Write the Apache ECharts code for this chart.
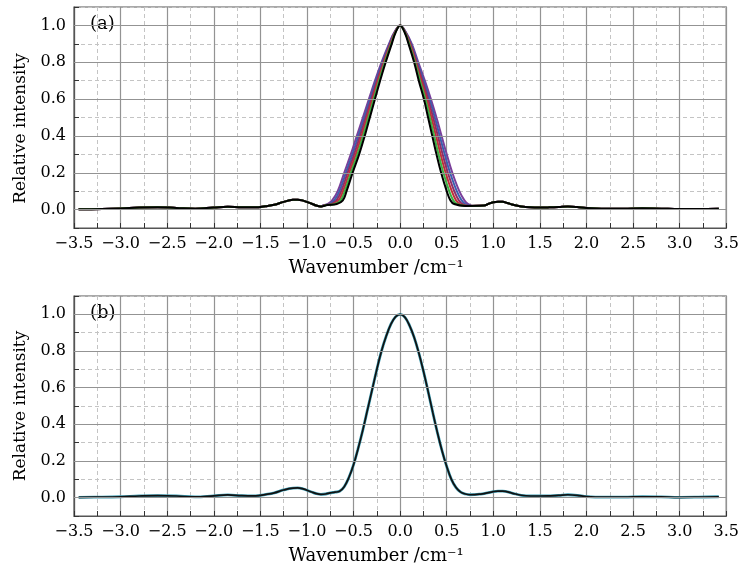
<!DOCTYPE html>
<html>
<head>
<meta charset="utf-8">
<script src="https://cdn.jsdelivr.net/npm/echarts@6/dist/echarts.min.js"></script>
<style>
  html, body { margin: 0; padding: 0; background: #fff; }
  #main { width: 742px; height: 570px; }
</style>
</head>
<body>
<div id="main"></div>
<script>
var chartDom = document.getElementById('main');
var myChart = echarts.init(chartDom);
var option;

// Solid horizontal grid lines (dashed ones come from the 0.1 split lines)
const gridY = [0, 0.2, 0.4, 0.6, 0.8, 1.0];

// ---- panel (a): shared wings ----
const tailLeftX = [-3.45, -3.2, -3.0, -2.8, -2.6, -2.4, -2.2, -2.0, -1.85, -1.7, -1.55, -1.45, -1.35, -1.25, -1.15, -1.1, -1.05, -0.95, -0.9, -0.85];
const tailLeftY = [0.002, 0.003, 0.006, 0.011, 0.013, 0.009, 0.005, 0.011, 0.015, 0.012, 0.012, 0.018, 0.026, 0.042, 0.053, 0.054, 0.05, 0.032, 0.022, 0.017];
const tailRightX = [0.9, 0.95, 1.0, 1.05, 1.1, 1.15, 1.2, 1.3, 1.4, 1.5, 1.6, 1.7, 1.8, 1.9, 2.0, 2.2, 2.4, 2.6, 2.8, 3.0, 3.2, 3.42];
const tailRightY = [0.022, 0.032, 0.04, 0.043, 0.042, 0.036, 0.028, 0.017, 0.012, 0.011, 0.012, 0.014, 0.017, 0.014, 0.008, 0.004, 0.004, 0.007, 0.005, 0.003, 0.003, 0.004];

// ---- panel (a): main peak, x positions read at fixed intensity levels ----
const levelsUp = [0.025, 0.03, 0.05, 0.1, 0.2, 0.3, 0.4, 0.5, 0.6, 0.7, 0.8, 0.9, 0.96, 1.0];
const levelsDown = [0.96, 0.9, 0.8, 0.7, 0.6, 0.5, 0.4, 0.3, 0.2, 0.1, 0.05, 0.03, 0.02];

const curveNames = ['c1', 'c2', 'c3', 'c4', 'c5', 'c6'];
const curveColors = ['#7a3f9a', '#3a5fae', '#8a2f6a', '#c0303a', '#3cb043', '#000000'];
const peakLeftX = [
  [-0.82, -0.78, -0.73, -0.67, -0.60, -0.53, -0.465, -0.40, -0.335, -0.27, -0.20, -0.12, -0.065, 0],
  [-0.812, -0.76, -0.707, -0.651, -0.582, -0.512, -0.448, -0.385, -0.322, -0.259, -0.191, -0.114, -0.062, 0],
  [-0.804, -0.74, -0.684, -0.632, -0.564, -0.494, -0.431, -0.37, -0.309, -0.248, -0.182, -0.108, -0.059, 0],
  [-0.796, -0.72, -0.661, -0.613, -0.546, -0.476, -0.414, -0.355, -0.296, -0.237, -0.173, -0.102, -0.056, 0],
  [-0.788, -0.70, -0.638, -0.594, -0.528, -0.458, -0.397, -0.34, -0.283, -0.226, -0.164, -0.096, -0.053, 0],
  [-0.78, -0.68, -0.615, -0.575, -0.51, -0.44, -0.38, -0.325, -0.27, -0.215, -0.155, -0.09, -0.05, 0]
];
const peakRightX = [
  [0.065, 0.125, 0.195, 0.265, 0.33, 0.39, 0.445, 0.50, 0.56, 0.635, 0.69, 0.73, 0.78],
  [0.062, 0.118, 0.186, 0.252, 0.315, 0.372, 0.425, 0.478, 0.536, 0.608, 0.66, 0.70, 0.764],
  [0.059, 0.111, 0.177, 0.239, 0.30, 0.354, 0.405, 0.456, 0.512, 0.581, 0.63, 0.67, 0.748],
  [0.056, 0.104, 0.168, 0.226, 0.285, 0.336, 0.385, 0.434, 0.488, 0.554, 0.60, 0.64, 0.732],
  [0.053, 0.097, 0.159, 0.213, 0.27, 0.318, 0.365, 0.412, 0.464, 0.527, 0.57, 0.61, 0.716],
  [0.05, 0.09, 0.15, 0.20, 0.255, 0.30, 0.345, 0.39, 0.44, 0.50, 0.54, 0.58, 0.70]
];

// ---- panel (b): single retrieved line shape ----
const bottomX = [-3.45, -3.2, -3.0, -2.8, -2.6, -2.4, -2.2, -2.0, -1.85, -1.7, -1.55, -1.45, -1.35, -1.25, -1.15, -1.1, -1.05, -0.95, -0.9, -0.85,
  -0.8, -0.75, -0.7, -0.65, -0.6, -0.55, -0.5, -0.45, -0.4, -0.35, -0.3, -0.25, -0.2, -0.15, -0.1, -0.05, 0,
  0.05, 0.1, 0.15, 0.2, 0.25, 0.3, 0.35, 0.4, 0.45, 0.5, 0.55, 0.6, 0.65, 0.7, 0.75, 0.8,
  0.85, 0.9, 1.0, 1.05, 1.1, 1.2, 1.3, 1.4, 1.5, 1.6, 1.7, 1.8, 1.9, 2.0, 2.2, 2.4, 2.6, 2.8, 3.0, 3.2, 3.42];
const bottomY = [0.002, 0.003, 0.005, 0.009, 0.011, 0.009, 0.004, 0.01, 0.015, 0.011, 0.01, 0.017, 0.026, 0.042, 0.052, 0.053, 0.049, 0.031, 0.022, 0.018,
  0.02, 0.026, 0.03, 0.035, 0.06, 0.11, 0.18, 0.27, 0.37, 0.48, 0.59, 0.70, 0.80, 0.88, 0.945, 0.986, 1.0,
  0.985, 0.94, 0.875, 0.79, 0.69, 0.58, 0.465, 0.355, 0.255, 0.17, 0.1, 0.055, 0.03, 0.02, 0.016, 0.017,
  0.019, 0.022, 0.033, 0.036, 0.036, 0.025, 0.013, 0.009, 0.009, 0.01, 0.012, 0.016, 0.013, 0.006, 0.003, 0.003, 0.005, 0.004, 0.002, 0.003, 0.005];

function pairs(xs, ys) {
  return xs.map(function (x, i) { return [x, ys[i]]; });
}

const serif = '"DejaVu Serif", serif';
const panelTops = [7, 296];

function makeX(idx) {
  return {
    type: 'value', gridIndex: idx, min: -3.5, max: 3.5, interval: 0.5,
    name: 'Wavenumber /cm\u207B\u00B9', nameLocation: 'middle', nameGap: 31,
    nameTextStyle: { fontFamily: serif, fontSize: 18, color: '#000', padding: [0, 48, 0, 0] },
    axisLine: { show: true, onZero: false, lineStyle: { color: '#555', width: 1.2 } },
    axisTick: { show: true, inside: true, length: 5, lineStyle: { color: '#333' } },
    minorTick: { show: true, splitNumber: 2, length: 5, lineStyle: { color: '#333' } },
    axisLabel: {
      margin: 8, fontFamily: serif, fontSize: 16, color: '#000',
      showMinLabel: true, showMaxLabel: true,
      formatter: function (v) {
        var s = Math.abs(v).toFixed(1);
        return v < -1e-9 ? '\u2212' + s : s;
      }
    },
    splitLine: { show: true, lineStyle: { color: '#939393', width: 1.2 } },
    minorSplitLine: { show: true, lineStyle: { color: '#c4c4c4', type: [4, 3], width: 1 } }
  };
}

function makeY(idx) {
  return {
    type: 'value', gridIndex: idx, min: -0.1, max: 1.1, interval: 0.1,
    name: 'Relative intensity', nameLocation: 'middle', nameGap: 45,
    nameTextStyle: { fontFamily: serif, fontSize: 17, color: '#000', padding: idx === 0 ? [0, 22, 0, 0] : 0 },
    axisLine: { show: true, onZero: false, lineStyle: { color: '#555', width: 1.2 } },
    axisTick: { show: true, inside: true, length: 5, lineStyle: { color: '#333' } },
    axisLabel: {
      margin: 8, fontFamily: serif, fontSize: 16, color: '#000',
      formatter: function (v) {
        var k = Math.round(v * 10);
        return (k >= 0 && k <= 10 && k % 2 === 0) ? (k / 10).toFixed(1) : '';
      }
    },
    splitLine: { show: true, lineStyle: { color: '#c4c4c4', type: [4, 3], width: 1 } }
  };
}

var series = [];
// solid horizontal grid lines for both panels
[0, 1].forEach(function (idx) {
  series.push({
    type: 'line', xAxisIndex: idx, yAxisIndex: idx, z: 1,
    data: [[-3.5, -0.1]], showSymbol: false, silent: true,
    lineStyle: { width: 0 },
    markLine: {
      silent: true, symbol: 'none', animation: false,
      label: { show: false },
      lineStyle: { color: '#939393', type: 'solid', width: 1.2 },
      data: gridY.map(function (v) { return { yAxis: v }; })
    }
  });
});

// panel (a): family of line shapes
curveNames.forEach(function (name, i) {
  var data = pairs(tailLeftX, tailLeftY)
    .concat(pairs(peakLeftX[i], levelsUp))
    .concat(pairs(peakRightX[i], levelsDown))
    .concat(pairs(tailRightX, tailRightY));
  series.push({
    name: name, type: 'line', xAxisIndex: 0, yAxisIndex: 0, z: 3,
    data: data, smooth: 0.4, showSymbol: false, animation: false,
    lineStyle: { color: curveColors[i], width: 2 }
  });
});

// panel (b)
series.push({
  name: 'b-fringe', type: 'line', xAxisIndex: 1, yAxisIndex: 1, z: 3,
  data: pairs(bottomX, bottomY), smooth: 0.4, showSymbol: false, animation: false,
  lineStyle: { color: '#3a9ab0', width: 2.8 }
});
series.push({
  name: 'b', type: 'line', xAxisIndex: 1, yAxisIndex: 1, z: 4,
  data: pairs(bottomX, bottomY), smooth: 0.4, showSymbol: false, animation: false,
  lineStyle: { color: '#111', width: 1.7 }
});

option = {
  backgroundColor: '#fff',
  animation: false,
  grid: [
    { left: 74, right: 15, top: panelTops[0], height: 221, show: true, borderColor: '#555', borderWidth: 1.2 },
    { left: 74, right: 15, top: panelTops[1], height: 220, show: true, borderColor: '#555', borderWidth: 1.2 }
  ],
  xAxis: [makeX(0), makeX(1)],
  yAxis: [makeY(0), makeY(1)],
  graphic: [
    { type: 'text', left: 90, top: 15, style: { text: '(a)', font: '18px "DejaVu Serif", serif', fill: '#000' } },
    { type: 'text', left: 90, top: 304, style: { text: '(b)', font: '18px "DejaVu Serif", serif', fill: '#000' } }
  ],
  series: series
};

option && myChart.setOption(option);
</script>
</body>
</html>
